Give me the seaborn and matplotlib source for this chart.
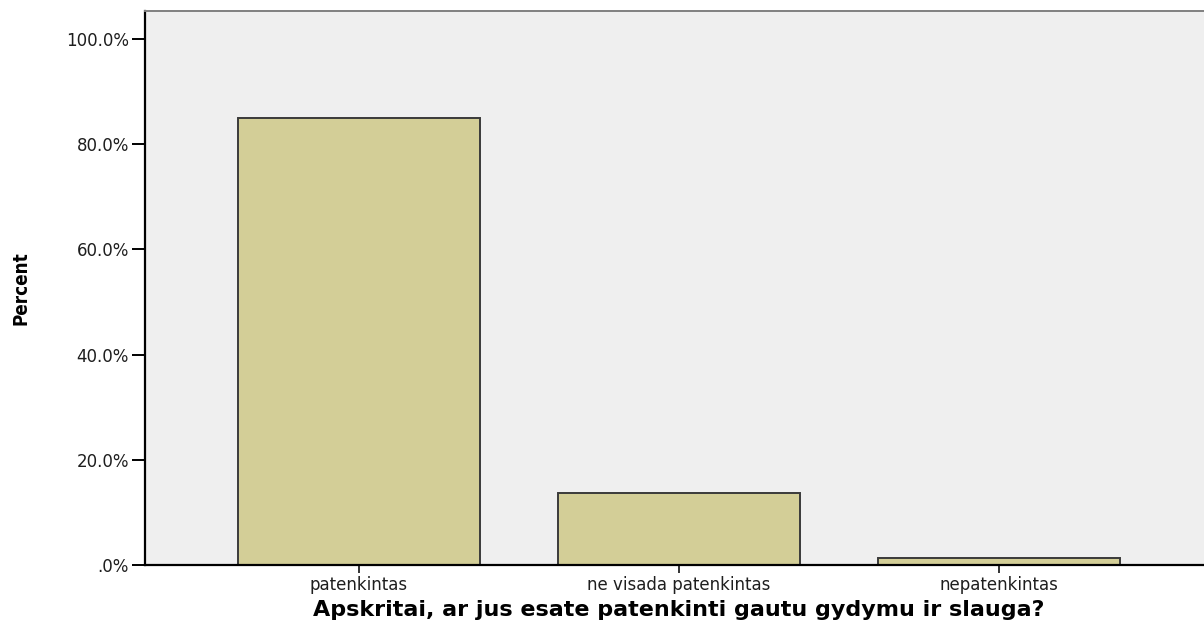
import matplotlib
matplotlib.use("Agg")
import matplotlib.pyplot as plt
from matplotlib.ticker import FuncFormatter
import seaborn as sns
import pandas as pd

categories = ["patenkintas", "ne visada patenkintas", "nepatenkintas"]
percents = [85.0, 13.7, 1.3]
y_ticks = [0, 20, 40, 60, 80, 100]

x_title = "Apskritai, ar jus esate patenkinti gautu gydymu ir slauga?"
y_title = "Percent"

sns.set_theme(style="white")
plt.rcParams["font.family"] = ["DejaVu Sans"]

df = pd.DataFrame({"answer": categories, "pct": percents})

W, H = 1204, 623
fig = plt.figure(figsize=(W / 100, H / 100), dpi=100)
fig.patch.set_facecolor("white")
ax = fig.add_axes([145 / W, 58 / H, (1213 - 145) / W, (565 - 11) / H])
ax.set_facecolor("#efefef")

sns.barplot(data=df, x="answer", y="pct", color="#d3ce97", saturation=1,
            edgecolor="#3a3a3a", linewidth=1.4, width=0.756, ax=ax)

ax.set_xlim(-0.669, 2.669)
ax.set_ylim(0, 105.3)
ax.set_yticks(y_ticks)


def pct_fmt(v, _):
    s = f"{v:.1f}%"
    return s[1:] if s.startswith("0.") else s


ax.yaxis.set_major_formatter(FuncFormatter(pct_fmt))

for side in ("left", "bottom"):
    ax.spines[side].set_color("black")
    ax.spines[side].set_linewidth(1.6)
ax.spines["top"].set_color("#808080")
ax.spines["top"].set_linewidth(1.4)
ax.spines["right"].set_visible(False)

ax.tick_params(axis="y", which="major", left=True, length=9.5, width=1.4,
               color="black", pad=2, labelsize=12, labelcolor="#1e1e1e")
ax.tick_params(axis="x", which="major", bottom=True, length=6, width=1.4,
               color="#333333", pad=2, labelsize=12, labelcolor="#1e1e1e")

ax.set_xlabel(x_title, fontsize=16, fontweight="bold", color="black")
ax.xaxis.set_label_coords(0.5, -0.0625)
ax.set_ylabel(y_title, fontsize=13.5, fontweight="bold", fontstretch="condensed",
              color="black")
ax.yaxis.set_label_coords(-0.107, 0.5)

fig.savefig("out.png", dpi=100, facecolor="white")
